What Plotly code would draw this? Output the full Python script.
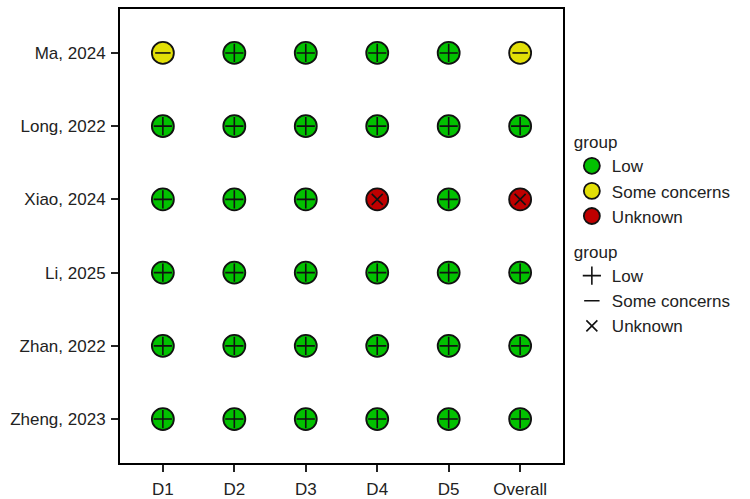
import plotly.graph_objects as go

studies = ["Zheng, 2023", "Zhan, 2022", "Li, 2025", "Xiao, 2024", "Long, 2022", "Ma, 2024"]
domains = ["D1", "D2", "D3", "D4", "D5", "Overall"]
judgements = {
    "Ma, 2024":    ["Some concerns", "Low", "Low", "Low", "Low", "Some concerns"],
    "Long, 2022":  ["Low", "Low", "Low", "Low", "Low", "Low"],
    "Xiao, 2024":  ["Low", "Low", "Low", "Unknown", "Low", "Unknown"],
    "Li, 2025":    ["Low", "Low", "Low", "Low", "Low", "Low"],
    "Zhan, 2022":  ["Low", "Low", "Low", "Low", "Low", "Low"],
    "Zheng, 2023": ["Low", "Low", "Low", "Low", "Low", "Low"],
}
levels = ["Low", "Some concerns", "Unknown"]
colours = {"Low": "#02C100", "Some concerns": "#E2DF07", "Unknown": "#BF0000"}
symbols = {"Low": "cross-thin", "Some concerns": "line-ew", "Unknown": "x-thin"}
symbol_sizes = {"Low": 13, "Some concerns": 11, "Unknown": 11}

xi = {d: i + 1 for i, d in enumerate(domains)}
yi = {s: i + 1 for i, s in enumerate(studies)}

fig = go.Figure()
for lvl in levels:
    xs, ys = [], []
    for s in studies:
        for d, j in zip(domains, judgements[s]):
            if j == lvl:
                xs.append(xi[d]); ys.append(yi[s])
    fig.add_trace(go.Scatter(
        x=xs, y=ys, mode="markers", name=lvl, legend="legend",
        marker=dict(symbol="circle", size=22, color=colours[lvl],
                    line=dict(color="#111111", width=1.8)),
        hoverinfo="skip"))
for lvl in levels:
    xs, ys = [], []
    for s in studies:
        for d, j in zip(domains, judgements[s]):
            if j == lvl:
                xs.append(xi[d]); ys.append(yi[s])
    fig.add_trace(go.Scatter(
        x=xs, y=ys, mode="markers", name=lvl, legend="legend2",
        marker=dict(symbol=symbols[lvl], size=symbol_sizes[lvl], color="#111111",
                    line=dict(color="#111111", width=1.6)),
        hoverinfo="skip"))

font = dict(family="Liberation Sans, Arial, sans-serif", size=17, color="#222222")
fig.update_layout(
    width=750, height=499,
    margin=dict(l=120, r=187, t=9, b=36, autoexpand=False),
    paper_bgcolor="white", plot_bgcolor="white",
    font=font,
    showlegend=True,
    legend=dict(title=dict(text="group", font=font), x=1.02, xanchor="left",
                y=0.742, yanchor="top", bgcolor="rgba(0,0,0,0)",
                font=font, itemsizing="trace", tracegroupgap=0),
    legend2=dict(title=dict(text="group", font=font), x=1.02, xanchor="left",
                 y=0.50, yanchor="top", bgcolor="rgba(0,0,0,0)",
                 font=font, tracegroupgap=0),
)
fig.update_xaxes(
    range=[0.4, 6.6], tickmode="array", tickvals=[xi[d] for d in domains],
    ticktext=domains, showgrid=False, zeroline=False, automargin=False,
    showline=True, linecolor="black", linewidth=2, mirror=True,
    ticks="outside", ticklen=7, tickwidth=1.5, tickcolor="#222222",
    ticklabelstandoff=3, tickfont=font)
fig.update_yaxes(
    range=[0.4, 6.6], tickmode="array", tickvals=[yi[s] for s in studies],
    ticktext=studies, showgrid=False, zeroline=False, automargin=False,
    showline=True, linecolor="black", linewidth=2, mirror=True,
    ticks="outside", ticklen=7, tickwidth=1.5, tickcolor="#222222",
    ticklabelstandoff=2, tickfont=font)

fig.write_html("out.html")
